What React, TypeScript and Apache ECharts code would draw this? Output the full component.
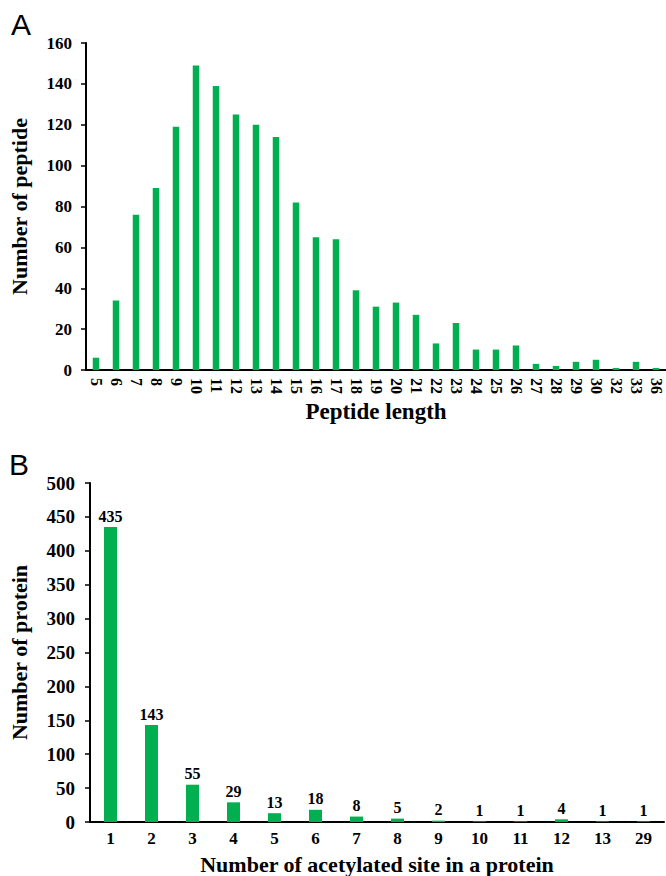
import React, { useEffect, useRef } from 'react';
import * as echarts from 'echarts';

const peptideLengths = ['5', '6', '7', '8', '9', '10', '11', '12', '13', '14', '15', '16', '17', '18', '19', '20', '21', '22', '23', '24', '25', '26', '27', '28', '29', '30', '32', '33', '36'];
const peptideCounts = [6, 34, 76, 89, 119, 149, 139, 125, 120, 114, 82, 65, 64, 39, 31, 33, 27, 13, 23, 10, 10, 12, 3, 2, 4, 5, 1, 4, 1];

const siteNumbers = ['1', '2', '3', '4', '5', '6', '7', '8', '9', '10', '11', '12', '13', '29'];
const proteinCounts = [435, 143, 55, 29, 13, 18, 8, 5, 2, 1, 1, 4, 1, 1];

const peptideTicks = { min: 0, max: 160, interval: 20 };
const proteinTicks = { min: 0, max: 500, interval: 50 };

const SERIF = '"Liberation Serif", "Times New Roman", serif';
const SANS = '"Liberation Sans", Arial, sans-serif';
const GREEN = '#00B050';

export default function App() {
  const ref = useRef<HTMLDivElement>(null);
  useEffect(() => {
    const chart = echarts.init(ref.current!, null, { renderer: 'svg' });
    const axisLine = { show: true, lineStyle: { color: '#000', width: 2 } };
    const nameStyle = { fontSize: 22, fontWeight: 'bold', color: '#000', fontFamily: SERIF };
    chart.setOption({
      animation: false,
      backgroundColor: '#fff',
      grid: [
        { left: 83, top: 43, width: 583, height: 327 },
        { left: 87, top: 483, width: 577, height: 339 },
      ],
      xAxis: [
        {
          gridIndex: 0,
          type: 'category',
          data: peptideLengths,
          axisLine,
          axisTick: { show: false },
          axisLabel: { interval: 0, rotate: -90, margin: 8, fontSize: 16, fontWeight: 'bold', color: '#000', fontFamily: SERIF },
          name: 'Peptide length',
          nameLocation: 'middle',
          nameGap: 30,
          nameTextStyle: { ...nameStyle, fontSize: 23 },
        },
        {
          gridIndex: 1,
          type: 'category',
          data: siteNumbers,
          axisLine,
          axisTick: { show: false },
          axisLabel: { interval: 0, margin: 8, fontSize: 17, fontWeight: 'bold', color: '#000', fontFamily: SERIF },
          name: 'Number of acetylated site in a protein',
          nameLocation: 'middle',
          nameGap: 31,
          nameTextStyle: nameStyle,
        },
      ],
      yAxis: [
        {
          gridIndex: 0,
          type: 'value',
          ...peptideTicks,
          splitLine: { show: false },
          axisLine,
          axisTick: { show: true, length: 5, lineStyle: { color: '#000', width: 1.5 } },
          axisLabel: { margin: 14, fontSize: 17, fontWeight: 'bold', color: '#000', fontFamily: SERIF },
          name: 'Number of peptide',
          nameLocation: 'middle',
          nameGap: 56,
          nameTextStyle: nameStyle,
        },
        {
          gridIndex: 1,
          type: 'value',
          ...proteinTicks,
          splitLine: { show: false },
          axisLine,
          axisTick: { show: true, length: 5, lineStyle: { color: '#000', width: 1.5 } },
          axisLabel: { margin: 15, fontSize: 19, fontWeight: 'bold', color: '#000', fontFamily: SERIF },
          name: 'Number of protein',
          nameLocation: 'middle',
          nameGap: 60,
          nameTextStyle: nameStyle,
        },
      ],
      series: [
        {
          type: 'bar',
          xAxisIndex: 0,
          yAxisIndex: 0,
          data: peptideCounts,
          barWidth: 6.5,
          itemStyle: { color: GREEN },
        },
        {
          type: 'bar',
          xAxisIndex: 1,
          yAxisIndex: 1,
          data: proteinCounts,
          barWidth: 13,
          itemStyle: { color: GREEN },
          label: { show: true, position: 'top', distance: 3, fontSize: 16, fontWeight: 'bold', color: '#000', fontFamily: SERIF },
        },
      ],
      graphic: [
        { type: 'text', left: 11, top: 9, style: { text: 'A', fontSize: 30, fontFamily: SANS, fill: '#000' } },
        { type: 'text', left: 9, top: 449, style: { text: 'B', fontSize: 30, fontFamily: SANS, fill: '#000' } },
      ],
    });
    return () => chart.dispose();
  }, []);
  return (
    <div
      ref={ref}
      style={{ position: 'fixed', left: 0, top: 0, width: 666, height: 876, background: '#fff' }}
    />
  );
}
